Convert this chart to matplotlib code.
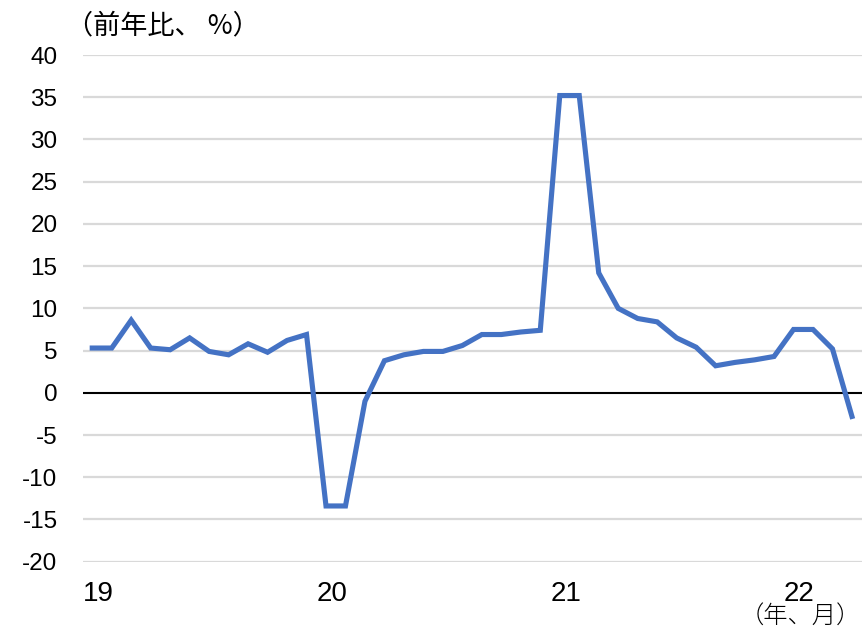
import matplotlib
matplotlib.use("Agg")
import matplotlib.pyplot as plt
import numpy as np

months = np.arange(40)  # Jan 2019 .. Apr 2022
values = [5.3, 5.3, 8.6, 5.3, 5.1, 6.5, 4.9, 4.5, 5.8, 4.8, 6.2, 6.9,
          -13.4, -13.4, -1.0, 3.8, 4.5, 4.9, 4.9, 5.6, 6.9, 6.9, 7.2, 7.4,
          35.2, 35.2, 14.2, 10.0, 8.8, 8.4, 6.5, 5.4, 3.2, 3.6, 3.9, 4.3,
          7.5, 7.5, 5.2, -2.8]
year_labels = ["19", "20", "21", "22"]
year_positions = [0, 12, 24, 36]
yticks = list(range(-20, 41, 5))

plt.rcParams['font.family'] = ['Liberation Sans', 'Noto Sans CJK JP', 'DejaVu Sans']

fig = plt.figure(figsize=(8.64, 6.39), dpi=100)
ax = fig.add_axes([82.5/864, 1-561.7/639, (861.7-82.5)/864, (561.7-55)/639])

for t in yticks:
    if t == 0:
        continue
    ax.axhline(t, color='#D9D9D9', lw=1.6, zorder=1)
ax.axhline(0, color='black', lw=1.5, zorder=2)

ax.plot(months, values, color='#4472C4', lw=3.7, solid_joinstyle='miter', zorder=3)

ax.set_xlim(-0.5, 39.5)
ax.set_ylim(-20, 40)
ax.set_yticks(yticks)
ax.set_yticklabels([str(t) for t in yticks], fontsize=17.5)
ax.set_xticks([p + 0.3 for p in year_positions])
ax.set_xticklabels(year_labels, fontsize=20)
ax.tick_params(axis='both', length=0)
ax.tick_params(axis='y', pad=25/1.389)
ax.tick_params(axis='x', pad=19/1.389)
for s in ax.spines.values():
    s.set_visible(False)

fig.text(66/864, 1-26/639, "（前年比、 %）", family=['Noto Sans CJK JP'],
         fontsize=19.5, va='center', ha='left')
fig.text(861/864, 1-617/639, "（年、月）", family=['Noto Sans CJK JP'],
         fontsize=17.5, va='center', ha='right', fontweight='light')

fig.savefig("out.png", dpi=100)
